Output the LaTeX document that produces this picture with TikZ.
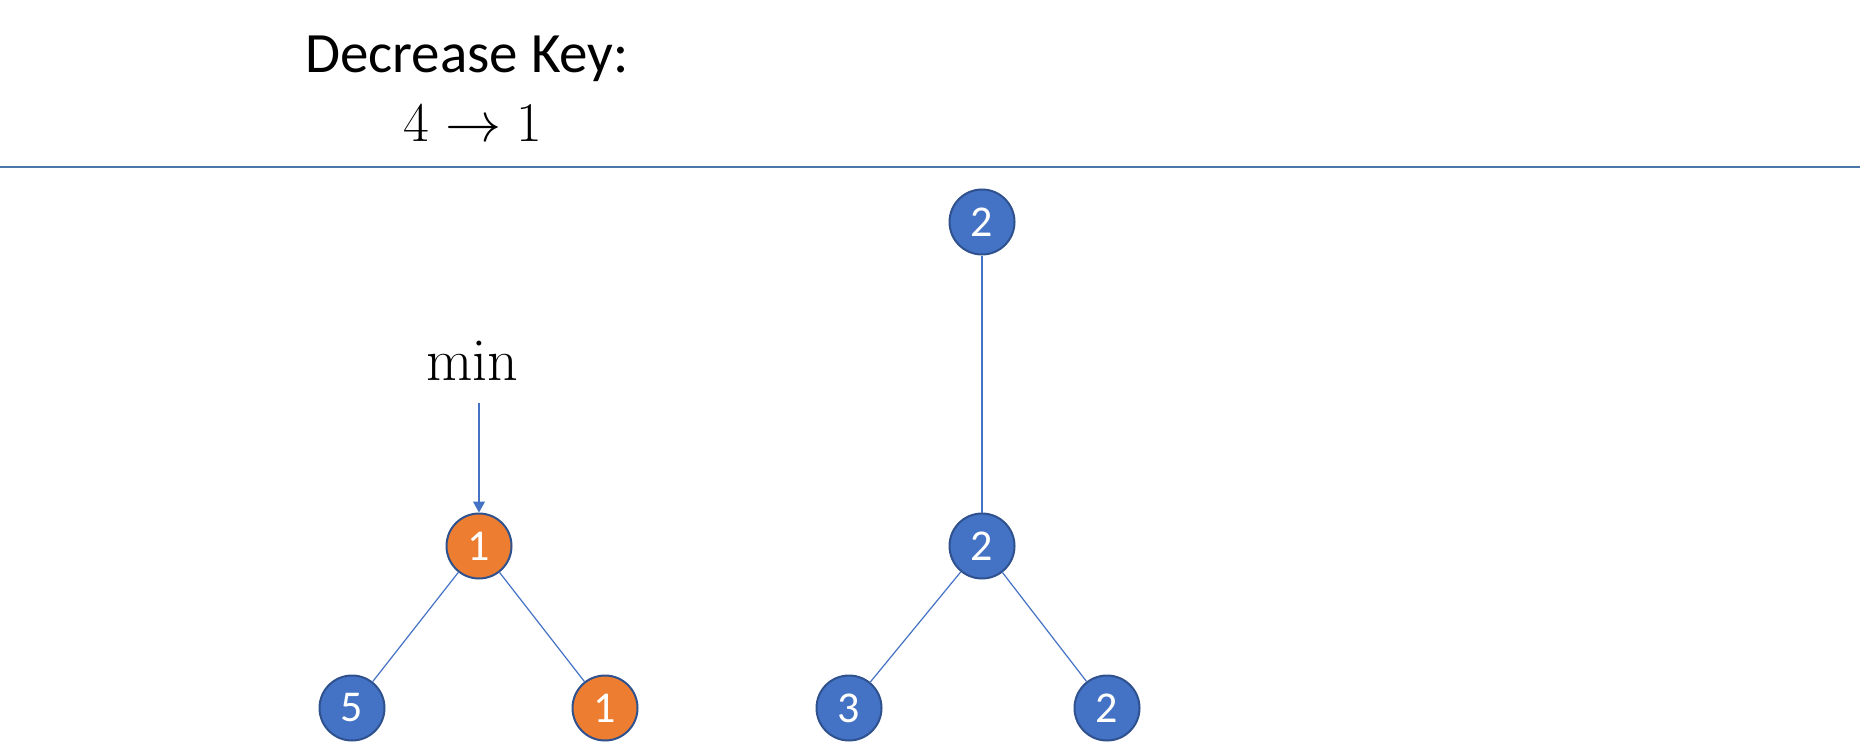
\RequirePackage{fix-cm}
\documentclass[tikz,border=0pt]{standalone}
\usepackage[no-math]{fontspec}
\setmainfont{Carlito}
\usepackage{tikz}
\usetikzlibrary{arrows.meta}
\definecolor{keyblue}{RGB}{68, 114, 196}
\definecolor{keyorange}{RGB}{237, 125, 49}
\definecolor{rimblue}{RGB}{47, 82, 143}
\definecolor{ruleblue}{RGB}{74, 118, 168}

\begin{document}
\begin{tikzpicture}[x=1pt, y=-1pt,
  key/.style={circle, draw=rimblue, line width=2pt, minimum size=65pt, inner sep=0pt,
    text=white, font=\fontsize{44}{44}\selectfont},
  bluekey/.style={key, fill=keyblue},
  orangekey/.style={key, fill=keyorange},
  link/.style={draw=keyblue, line width=1.2pt}]
\useasboundingbox (0,0) rectangle (1860,754);

% Heading
\node[anchor=base] (title) at (467,73) {\fontsize{57}{60}\selectfont Decrease Key:};
\node[anchor=base] (change) at (473,142) {\fontsize{56}{60}\selectfont $4 \rightarrow 1$};
\draw[ruleblue, line width=2pt] (0,167) -- (1860,167);

% Left tree
\node[orangekey] (root1) at (479,546) {1};
\node[bluekey] (leaf5) at (352,708) {5};
\node[orangekey] (leaf1) at (605,708) {1};
\draw[link] (root1) -- (leaf5);
\draw[link] (root1) -- (leaf1);

% Min pointer
\node[anchor=base] (min) at (472,380) {\fontsize{60}{64}\selectfont $\mathrm{min}$};
\draw[link, -{Triangle[length=11pt, width=12pt]}, shorten <=19pt] (min.south -| root1) -- (root1);

% Right tree
\node[bluekey] (top2) at (982,222) {2};
\node[bluekey] (mid2) at (982,546) {2};
\node[bluekey] (leaf3) at (849,708) {3};
\node[bluekey] (leaf2) at (1107,708) {2};
\draw[link] (top2) -- (mid2);
\draw[link] (mid2) -- (leaf3);
\draw[link] (mid2) -- (leaf2);
\end{tikzpicture}
\end{document}
